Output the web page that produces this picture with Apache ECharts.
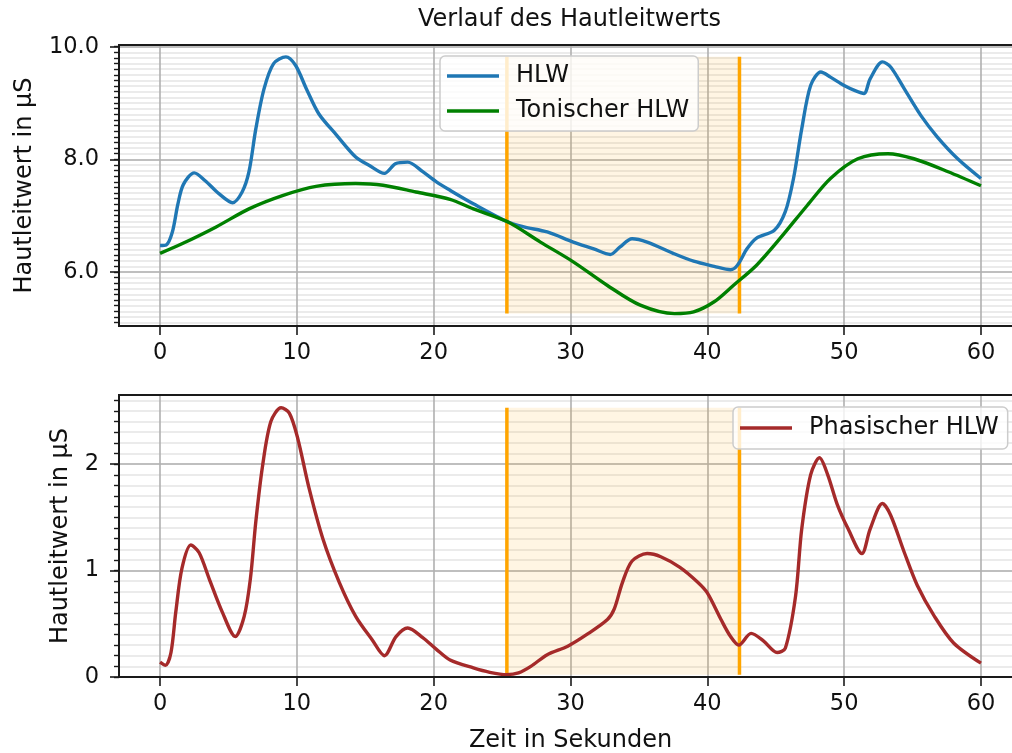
<!DOCTYPE html>
<html>
<head>
<meta charset="utf-8">
<script src="https://cdn.jsdelivr.net/npm/echarts@6/dist/echarts.min.js"></script>
<style>html,body{margin:0;padding:0;background:#fff;overflow:hidden;}#c{width:1012px;height:753px;}</style>
</head>
<body>
<div id="c"></div>
<script>
// ---- data (time in s, conductance in µS) ----
const hlwT = [0.0,0.45,0.9,1.3,1.7,2.5,3.3,4.3,5.3,6.0,6.5,7.0,7.6,8.3,9.2,9.9,10.7,11.6,12.9,14.3,15.3,16.4,17.2,18.1,19.2,20.2,21.2,22.9,25.4,26.6,28.3,30.2,31.7,32.9,33.6,34.5,35.6,37.5,39.0,40.5,41.7,42.2,42.9,43.6,44.9,45.7,46.3,46.9,47.55,48.3,49.0,50.0,50.8,51.45,51.9,52.8,53.4,54.4,55.6,56.8,58.3,60.0];
const hlwV = [6.47,6.48,6.71,7.2,7.55,7.76,7.62,7.39,7.23,7.42,7.78,8.54,9.25,9.70,9.82,9.67,9.25,8.81,8.43,8.04,7.89,7.75,7.92,7.95,7.78,7.60,7.45,7.21,6.89,6.80,6.71,6.53,6.41,6.31,6.44,6.59,6.53,6.33,6.19,6.10,6.04,6.12,6.41,6.60,6.74,7.07,7.66,8.54,9.31,9.55,9.46,9.31,9.22,9.17,9.43,9.73,9.64,9.25,8.78,8.40,8.01,7.66];

const tonT = [0,1.6,4.1,6.5,9.0,11.4,14.3,16.3,18.7,21.2,22.9,25.4,27.8,30.2,32.7,35.1,37.6,39.0,40.5,41.9,43.6,45.3,47.3,49.0,51.0,53.2,55.1,57.6,60.0];
const tonV = [6.33,6.50,6.80,7.12,7.36,7.52,7.57,7.54,7.42,7.29,7.12,6.89,6.53,6.18,5.76,5.41,5.26,5.29,5.47,5.76,6.12,6.59,7.18,7.66,8.01,8.10,8.01,7.78,7.53];

const phaT = [0,0.4,0.8,1.15,1.6,2.25,2.85,3.6,4.55,5.5,6.15,6.6,7.0,7.5,8.1,8.85,9.45,10.05,10.9,11.9,13.1,14.3,15.5,16.4,17.25,18.1,19.2,20.2,21.2,22.9,24.1,25.35,26.2,27.1,28.3,29.8,31.2,32.7,33.2,33.8,34.5,35.6,36.6,38.0,39.3,40.0,41.0,41.7,42.3,43.2,44.1,45.1,45.7,46.45,46.9,47.55,48.2,48.8,49.5,50.3,51.3,51.9,52.8,53.4,54.4,55.35,56.6,58.0,60.0];
const phaV = [0.14,0.11,0.23,0.61,1.02,1.24,1.17,0.92,0.61,0.38,0.57,0.92,1.46,1.99,2.40,2.53,2.48,2.25,1.77,1.30,0.89,0.57,0.35,0.20,0.38,0.46,0.37,0.26,0.16,0.085,0.044,0.022,0.038,0.10,0.21,0.29,0.40,0.54,0.64,0.89,1.09,1.16,1.13,1.03,0.89,0.79,0.54,0.38,0.30,0.41,0.34,0.23,0.27,0.76,1.39,1.90,2.06,1.90,1.62,1.39,1.16,1.39,1.63,1.52,1.17,0.86,0.57,0.32,0.13];

const eventStart = 25.35;
const eventEnd = 42.35;
const topSpan = [5.26, 9.82];
const botSpan = [0.02, 2.53];

const xTicks = [0,10,20,30,40,50,60];
const topMajor = [6,8,10];
const botMajor = [0,1,2];
const topRange = [5.04, 10.03];
const botRange = [0, 2.65];
const xRange = [-3, 63];

// ---- helpers ----
const zip = (a, b) => a.map((v, i) => [v, b[i]]);
function minorTicks(lo, hi) {
  const out = [];
  for (let k = Math.ceil(lo * 10); k <= Math.floor(hi * 10); k++) out.push(k / 10);
  return out;
}
const FONT = 'DejaVu Sans';
const TXT = '#111';
const MAJOR = '#b0b0b0';
const MINOR = '#e4e4e4';
const SPINE = '#1a1a1a';
const FS = 24;

function xAxis(grid, withName) {
  const a = {
    gridIndex: grid, type: 'value', min: xRange[0], max: xRange[1],
    axisLine: { show: false, onZero: false },
    axisTick: { show: true, customValues: xTicks, length: 9, lineStyle: { color: SPINE, width: 1.6 } },
    axisLabel: { customValues: xTicks, fontFamily: FONT, fontSize: 22.5, color: TXT, margin: 16 },
    splitLine: { show: true, lineStyle: { color: MAJOR, width: 1.6 } }
  };
  if (withName) {
    a.name = 'Zeit in Sekunden';
    a.nameLocation = 'middle';
    a.nameGap = 52;
    a.nameTextStyle = { fontFamily: FONT, fontSize: FS, color: TXT };
  }
  return a;
}
function yMinor(grid, range) {
  return {
    gridIndex: grid, type: 'value', position: 'left', min: range[0], max: range[1], z: 0,
    axisLine: { show: false, onZero: false },
    axisTick: { show: true, customValues: minorTicks(range[0], range[1]), length: 5, lineStyle: { color: SPINE, width: 1.4 } },
    axisLabel: { show: false },
    splitLine: { show: true, lineStyle: { color: MINOR, width: 1.5 } }
  };
}
function yMajor(grid, range, ticks, digits, gap) {
  return {
    gridIndex: grid, type: 'value', position: 'left', min: range[0], max: range[1], z: 1,
    axisLine: { show: false, onZero: false },
    axisTick: { show: true, customValues: ticks, length: 9, lineStyle: { color: SPINE, width: 1.6 } },
    axisLabel: { customValues: ticks, fontFamily: FONT, fontSize: 22.5, color: TXT, margin: 20,
      formatter: v => Number(v).toFixed(digits) },
    splitLine: { show: true, lineStyle: { color: MAJOR, width: 1.6 } },
    name: 'Hautleitwert in µS', nameLocation: 'middle', nameRotate: 90, nameGap: gap,
    nameTextStyle: { fontFamily: FONT, fontSize: FS, color: TXT }
  };
}
function eventLine(name, x, span, xi, yi, area) {
  const s = {
    name: name, type: 'line', xAxisIndex: xi, yAxisIndex: yi, symbol: 'none', silent: true, z: 3,
    data: [[x, span[0]], [x, span[1]]],
    lineStyle: { color: '#ffa500', width: 3.5 }
  };
  if (area) {
    s.markArea = { silent: true, itemStyle: { color: 'rgba(255,165,0,0.11)' },
      data: [[{ coord: [eventStart, span[0]] }, { coord: [eventEnd, span[1]] }]] };
  }
  return s;
}

const chart = echarts.init(document.getElementById('c'), null, { renderer: 'canvas' });
chart.setOption({
  animation: false,
  backgroundColor: '#fff',
  title: { text: 'Verlauf des Hautleitwerts', left: 418, top: 8, padding: 0,
    textStyle: { fontFamily: FONT, fontSize: FS, fontWeight: 'normal', color: TXT } },
  grid: [
    { left: 119, top: 45, width: 903, height: 281, outerBoundsMode: 'none', containLabel: false,
      show: true, borderColor: SPINE, borderWidth: 2, backgroundColor: 'transparent', z: 5 },
    { left: 119, top: 395, width: 903, height: 282, outerBoundsMode: 'none', containLabel: false,
      show: true, borderColor: SPINE, borderWidth: 2, backgroundColor: 'transparent', z: 5 }
  ],
  legend: [
    { data: ['HLW', 'Tonischer HLW'], orient: 'vertical', left: 440, top: 56,
      padding: [8, 9, 8, 7], itemGap: 11, itemWidth: 52, itemHeight: 3.5, icon: 'rect',
      backgroundColor: 'rgba(255,255,255,0.8)', borderColor: '#cccccc', borderWidth: 1.5, borderRadius: 5,
      textStyle: { fontFamily: FONT, fontSize: FS, color: TXT, padding: [0, 0, 0, 12] }, z: 10 },
    { data: ['Phasischer HLW'], orient: 'vertical', left: 733, top: 407,
      padding: [9, 9, 9, 7], itemWidth: 52, itemHeight: 3.5, icon: 'rect',
      backgroundColor: 'rgba(255,255,255,0.8)', borderColor: '#cccccc', borderWidth: 1.5, borderRadius: 5,
      textStyle: { fontFamily: FONT, fontSize: FS, color: TXT, padding: [0, 0, 0, 12] }, z: 10 }
  ],
  xAxis: [xAxis(0, false), xAxis(1, true)],
  yAxis: [
    yMinor(0, topRange),
    yMajor(0, topRange, topMajor, 1, 82),
    yMinor(1, botRange),
    yMajor(1, botRange, botMajor, 0, 46)
  ],
  series: [
    eventLine('start0', eventStart, topSpan, 0, 1, true),
    eventLine('end0', eventEnd, topSpan, 0, 1, false),
    eventLine('start1', eventStart, botSpan, 1, 3, true),
    eventLine('end1', eventEnd, botSpan, 1, 3, false),
    { name: 'HLW', type: 'line', xAxisIndex: 0, yAxisIndex: 1, symbol: 'none', smooth: 0.3, z: 4,
      data: zip(hlwT, hlwV), itemStyle: { color: '#1f77b4' }, lineStyle: { color: '#1f77b4', width: 3.4 } },
    { name: 'Tonischer HLW', type: 'line', xAxisIndex: 0, yAxisIndex: 1, symbol: 'none', smooth: 0.3, z: 4,
      data: zip(tonT, tonV), itemStyle: { color: '#008000' }, lineStyle: { color: '#008000', width: 3.4 } },
    { name: 'Phasischer HLW', type: 'line', xAxisIndex: 1, yAxisIndex: 3, symbol: 'none', smooth: 0.3, z: 4,
      data: zip(phaT, phaV), itemStyle: { color: '#a52a2a' }, lineStyle: { color: '#a52a2a', width: 3.4 } }
  ]
});
</script>
</body>
</html>
